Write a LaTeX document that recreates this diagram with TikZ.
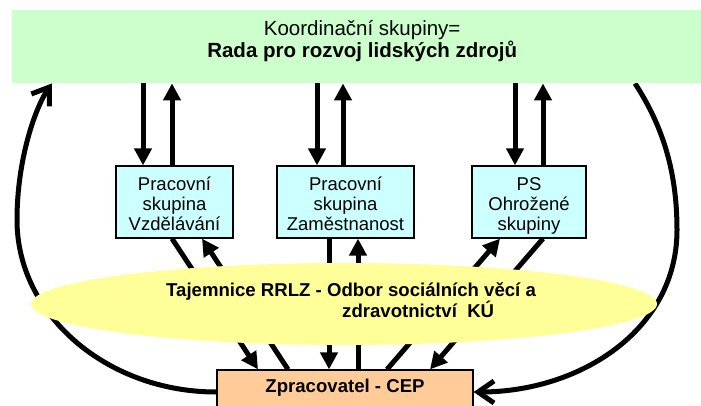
\documentclass[tikz,border=0pt]{standalone}
\usepackage{fontspec}
\setmainfont{Liberation Sans}
\usetikzlibrary{arrows.meta,shapes.geometric}
\pgfdeclarelayer{bg}
\pgfsetlayers{bg,main}
\definecolor{kgreen}{HTML}{CCFFCC}
\definecolor{pcyan}{HTML}{CCFFFF}
\definecolor{eyel}{HTML}{FFFF99}
\definecolor{cepor}{HTML}{FFCC99}
\newcommand\boxlines[3]{\rule{0pt}{20.5pt}#1\\#2\\#3\rule[-4.5pt]{0pt}{4.5pt}}
\begin{document}
\begin{tikzpicture}[x=1pt,y=-1pt,
  pbox/.style={draw=black, line width=1.2pt, fill=pcyan, minimum height=72pt,
    inner sep=0pt, align=center, font=\fontsize{18.5}{20}\selectfont},
  conn/.style={line width=5pt, -{Triangle[length=17pt,width=17pt]}},
  curve/.style={line width=5pt, line join=miter, -{Straight Barb[length=16pt,width=22pt]}},
  btxt/.style={font=\fontsize{18.6}{20.7}\selectfont\bfseries, inner sep=0pt}
]
\useasboundingbox (0,0) rectangle (701,405);
\clip (0,0) rectangle (701,405);
% top box
\node[fill=kgreen, minimum width=700pt, minimum height=73pt, inner sep=0pt,
  anchor=north west, align=center, font=\fontsize{20.5}{22.7}\selectfont] (koord) at (12,10)
  {\rule{0pt}{15pt}Koordinační skupiny=\\\textbf{Rada pro rozvoj lidských zdrojů}\rule[-15.3pt]{0pt}{15.3pt}};
% working groups
\node[pbox, minimum width=117pt] (b1) at (174.5,202) {\boxlines{Pracovní}{skupina}{Vzdělávání}};
\node[pbox, minimum width=137pt] (b2) at (345.5,202) {\boxlines{Pracovní}{skupina}{Zaměstnanost}};
\node[pbox, minimum width=114pt] (b3) at (529,202) {\boxlines{PS}{Ohrožené}{skupiny}};
% ellipse
\node[ellipse, fill=eyel, minimum width=626pt, minimum height=82pt, inner sep=0pt] (taj) at (344,304) {};
\node[btxt, anchor=base west] (tajA) at (166,296) {Tajemnice RRLZ - Odbor sociálních věcí a};
\node[btxt, anchor=base west] (tajB) at (342,317) {zdravotnictví\ \ KÚ};
% processor
\node[draw=black, line width=1.2pt, fill=cepor, minimum width=256pt, minimum height=44pt,
  inner sep=0pt, btxt] (cep) at (345,392) {\rule[-14pt]{0pt}{28pt}Zpracovatel - CEP};
% x positions
\coordinate (xd1) at (143,0); \coordinate (xu1) at (172,0);
\coordinate (xd2) at (317,0); \coordinate (xu2) at (343,0);
\coordinate (xd3) at (515,0); \coordinate (xu3) at (543,0);
\coordinate (xb1a) at (172,0); \coordinate (xc1a) at (258,0);
\coordinate (xc1b) at (288,0); \coordinate (xb1b) at (202,0);
\coordinate (xb2a) at (329,0); \coordinate (xb2b) at (358,0);
\coordinate (xc3a) at (387,0); \coordinate (xb3a) at (500,0);
\coordinate (xb3b) at (543,0); \coordinate (xc3b) at (430,0);
\coordinate (xl) at (52,0); \coordinate (xr) at (635,0);
\begin{pgfonlayer}{bg}
\draw[conn] (koord.south -| xd1) -- (b1.north -| xd1);
\draw[conn] (b1.north -| xu1) -- (koord.south -| xu1);
\draw[conn] (koord.south -| xd2) -- (b2.north -| xd2);
\draw[conn] (b2.north -| xu2) -- (koord.south -| xu2);
\draw[conn] (koord.south -| xd3) -- (b3.north -| xd3);
\draw[conn] (b3.north -| xu3) -- (koord.south -| xu3);
\draw[conn] (b1.south -| xb1a) -- (cep.north -| xc1a);
\draw[conn] (cep.north -| xc1b) -- (b1.south -| xb1b);
\draw[conn] (b2.south -| xb2a) -- (cep.north -| xb2a);
\draw[conn] (cep.north -| xb2b) -- (b2.south -| xb2b);
\draw[conn] (cep.north -| xc3a) -- (b3.south -| xb3a);
\draw[conn] (b3.south -| xb3b) -- (cep.north -| xc3b);
\draw[curve] (cep.west) .. controls (107,392) and (17,315) .. (17,220)
  .. controls (17,160) and (35,108) .. (koord.south -| xl);
\draw[curve] (koord.south -| xr) .. controls (662,125) and (677,170) .. (677,230)
  .. controls (677,330) and (580,392) .. (cep.east);
\end{pgfonlayer}
\end{tikzpicture}
\end{document}
